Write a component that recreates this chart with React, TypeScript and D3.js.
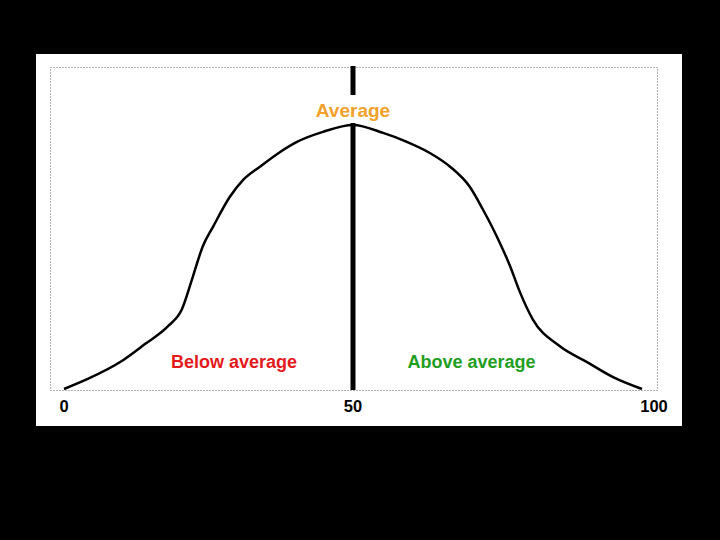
import * as d3 from "d3";
import { useEffect, useRef } from "react";

// score (0-100) and relative frequency (peak = 100)
const scores = [0, 4.1, 10, 14, 18, 20.4, 22.3, 24, 25.8, 28.7, 31, 33.9, 37.4, 40.3, 44.8, 50, 55.2, 59, 63.3, 66.8, 70.2, 72.5, 74.9, 77.2, 78.9, 81.1, 85.8, 90.5, 95, 100];
const freq = [0, 3.8, 10.6, 17, 23.8, 30.2, 42.6, 54, 61.5, 72.8, 79.2, 84.2, 89.8, 93.6, 97.4, 100, 97, 93.9, 89.4, 84.2, 76.6, 67.9, 57.7, 46.4, 36.6, 26.4, 16.2, 10.2, 4.5, 0];

const tickValues = [0, 50, 100];
const average = 50;

const labels = [
  { text: "Below average", at: 29.4, color: "#e31a1c" },
  { text: "Above average", at: 70.5, color: "#1f9e1f" },
];

const App = () => {
  const svgRef = useRef<SVGSVGElement>(null);

  useEffect(() => {
    const svg = d3.select(svgRef.current);
    svg.selectAll("*").remove();

    const width = 720;
    const height = 540;

    const x = d3.scaleLinear().domain([0, 100]).range([64, 642]);
    const y = d3.scaleLinear().domain([0, 100]).range([389, 125]);

    svg.append("rect").attr("width", width).attr("height", height).attr("fill", "#000");

    // white panel
    svg.append("rect").attr("x", 36).attr("y", 54).attr("width", 646).attr("height", 372).attr("fill", "#fff");

    // dotted frame of the plot
    svg
      .append("rect")
      .attr("x", 50.5)
      .attr("y", 67.5)
      .attr("width", 607)
      .attr("height", 323)
      .attr("fill", "none")
      .attr("stroke", "#666")
      .attr("stroke-dasharray", "1,2");

    // average marker
    svg
      .append("line")
      .attr("x1", x(average))
      .attr("x2", x(average))
      .attr("y1", 66)
      .attr("y2", 390)
      .attr("stroke", "#000")
      .attr("stroke-width", 5);

    const data = scores.map((s, i) => ({ s, f: freq[i] }));
    const line = d3
      .line<{ s: number; f: number }>()
      .x((d) => x(d.s))
      .y((d) => y(d.f))
      .curve(d3.curveMonotoneX);

    const font = "'Liberation Sans', Arial, sans-serif";

    // white knock-out behind the "Average" label, breaking the marker
    svg
      .append("rect")
      .attr("x", x(average) - 40)
      .attr("y", 95)
      .attr("width", 80)
      .attr("height", 28)
      .attr("fill", "#fff");

    svg
      .append("path")
      .datum(data)
      .attr("d", line)
      .attr("fill", "none")
      .attr("stroke", "#000")
      .attr("stroke-width", 2.5);

    svg
      .append("text")
      .attr("x", x(average))
      .attr("y", 117)
      .attr("text-anchor", "middle")
      .attr("font-family", font)
      .attr("font-weight", "bold")
      .attr("font-size", 19)
      .attr("fill", "#f2a12a")
      .text("Average");

    svg
      .selectAll(".side")
      .data(labels)
      .enter()
      .append("text")
      .attr("class", "side")
      .attr("x", (d) => x(d.at))
      .attr("y", 368)
      .attr("text-anchor", "middle")
      .attr("font-family", font)
      .attr("font-weight", "bold")
      .attr("font-size", 18)
      .attr("fill", (d) => d.color)
      .text((d) => d.text);

    svg
      .selectAll(".tick")
      .data(tickValues)
      .enter()
      .append("text")
      .attr("class", "tick")
      .attr("x", (d) => x(d))
      .attr("dx", (d) => (d === 100 ? 12 : 0))
      .attr("y", 412)
      .attr("text-anchor", "middle")
      .attr("font-family", font)
      .attr("font-weight", "bold")
      .attr("font-size", 16.5)
      .attr("fill", "#000")
      .text((d) => d);
  }, []);

  return (
    <svg
      ref={svgRef}
      width={720}
      height={540}
      style={{ position: "absolute", left: 0, top: 0, display: "block" }}
    ></svg>
  );
};

export default App;
